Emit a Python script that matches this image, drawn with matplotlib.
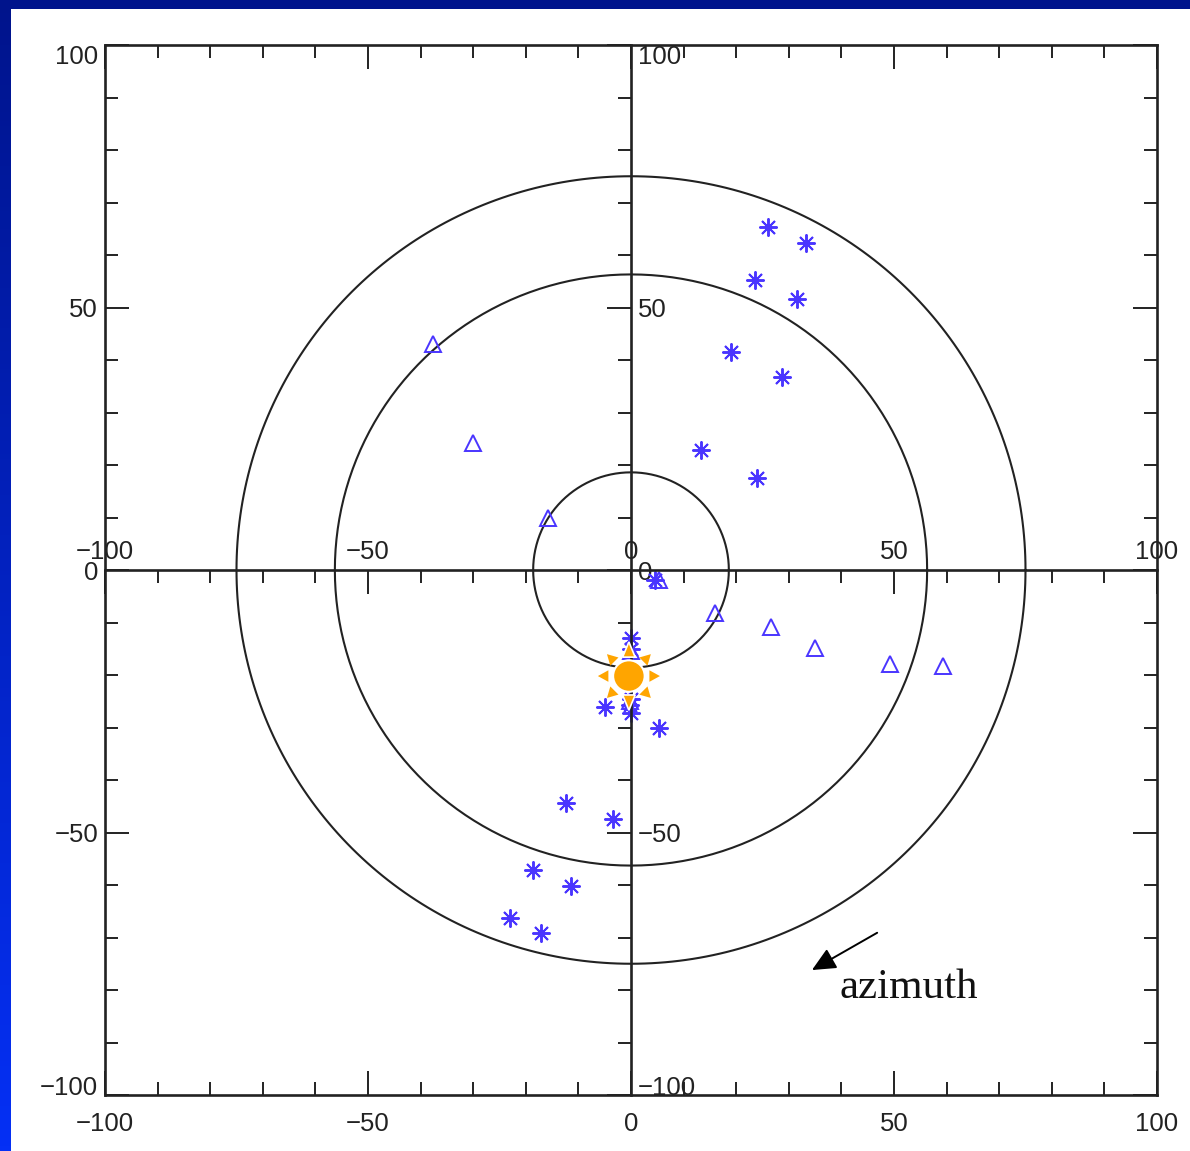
import numpy as np
import matplotlib
matplotlib.use('Agg')
import matplotlib.pyplot as plt
from matplotlib.patches import Circle, Polygon, Rectangle
from matplotlib.colors import LinearSegmentedColormap

plt.rcParams['font.family'] = ['Liberation Sans', 'DejaVu Sans']

# asterisks
star_x = [26.0, 33.3, 23.6, 31.6, 19.0, 28.7, 13.3, 24.0, 4.6, 0.0, 0.0, 0.0, -0.2, 0.0,
          -4.9, 5.3, -12.4, -3.4, -18.6, -11.4, -23.0, -17.1]
star_y = [65.3, 62.3, 55.2, 51.6, 41.5, 36.8, 22.9, 17.5, -1.9, -13.0, -15.0, -24.5, -25.7, -27.2,
          -26.1, -30.1, -44.4, -47.4, -57.1, -60.2, -66.3, -69.1]

# triangles
tri_x = [-37.6, -30.0, -15.8, 5.3, 16.0, 26.6, 35.0, 49.2, 59.3, 0.0, -0.2]
tri_y = [43.0, 24.2, 9.9, -1.9, -8.2, -10.9, -14.9, -17.9, -18.3, -15.5, -25.0]

radii = [18.6, 56.3, 75.0]

major_ticks = [-100, -50, 0, 50, 100]
minor_ticks = list(range(-100, 101, 10))
tick_labels = ['\u2212100', '\u221250', '0', '50', '100']

sun_x, sun_y = -0.4, -20.2
ray_angles = [0, 45, 90, 135, 180, 225, 270, 315]

BLUE = '#4a35ff'
ORANGE = '#ffa500'
INK = '#222222'
W, H = 1190, 1151

fig = plt.figure(figsize=(W / 100, H / 100), dpi=100)

# blue slide background with white panel
bg = fig.add_axes([0, 0, 1, 1], zorder=0)
cmap = LinearSegmentedColormap.from_list('slide', ['#00148c', '#0530f5'])
bg.imshow(np.linspace(0, 1, 256).reshape(-1, 1), aspect='auto', cmap=cmap, extent=[0, W, H, 0])
bg.add_patch(Rectangle((11, 9), W, H, color='white', lw=0))
bg.set_xlim(0, W)
bg.set_ylim(H, 0)
bg.axis('off')

pos = [105 / W, 1 - 1095 / H, 1052 / W, 1050 / H]

# box axes
ax = fig.add_axes(pos, zorder=1)
ax.patch.set_alpha(0)
ax.set_xlim(-100, 100)
ax.set_ylim(-100, 100)
ax.set_xticks(major_ticks, tick_labels)
ax.set_yticks(major_ticks, tick_labels)
ax.set_xticks(minor_ticks, minor=True)
ax.set_yticks(minor_ticks, minor=True)
ax.tick_params(which='major', direction='in', length=17, width=1.4, top=True, right=True,
               labelsize=18.5, color=INK, labelcolor=INK)
ax.tick_params(which='minor', direction='in', length=9.5, width=1.4, top=True, right=True, color=INK)
ax.tick_params(axis='x', which='major', pad=12)
ax.tick_params(axis='y', which='major', pad=5)
for s in ax.spines.values():
    s.set_linewidth(1.9)
    s.set_color(INK)
ax.get_yticklabels()[0].set_va('baseline')
ax.get_yticklabels()[-1].set_va('top')

# central axes
cx = fig.add_axes(pos, zorder=2)
cx.patch.set_alpha(0)
cx.set_xlim(-100, 100)
cx.set_ylim(-100, 100)
for name in ['left', 'bottom']:
    cx.spines[name].set_visible(False)
cx.spines['right'].set_position(('data', 0))
cx.spines['top'].set_position(('data', 0))
cx.spines['right'].set_linewidth(1.9)
cx.spines['top'].set_linewidth(1.9)
cx.spines['right'].set_color(INK)
cx.spines['top'].set_color(INK)
cx.xaxis.tick_top()
cx.yaxis.tick_right()
cx.set_xticks(major_ticks, tick_labels)
cx.set_yticks(major_ticks, tick_labels)
cx.set_xticks(minor_ticks, minor=True)
cx.set_yticks(minor_ticks, minor=True)
cx.tick_params(which='major', direction='in', length=17, width=1.4, labelsize=18.5,
               color=INK, labelcolor=INK)
cx.tick_params(which='minor', direction='in', length=9.5, width=1.4, color=INK)
cx.tick_params(axis='x', which='major', pad=4)
cx.tick_params(axis='y', which='major', pad=5)
cx.get_yticklabels()[0].set_va('baseline')
cx.get_yticklabels()[-1].set_va('top')
for lab in cx.get_xticklabels() + cx.get_yticklabels():
    lab.set_clip_on(False)

# circles
theta = np.linspace(0, 2 * np.pi, 361)
for r in radii:
    cx.plot(r * np.cos(theta), r * np.sin(theta), color=INK, lw=1.5)

cx.plot(star_x, star_y, ls='none', marker=(8, 2, 0), ms=13, mew=1.4, color=BLUE, clip_on=False)
cx.plot(tri_x, tri_y, ls='none', marker='^', ms=11, mew=1.4, mfc='none', mec=BLUE)

# sun symbol
for a in ray_angles:
    t = np.radians(a)
    ux, uy = np.cos(t), np.sin(t)
    big = a in (90, 270)
    base, tip, half = (3.6, 6.5, 1.2) if big else (3.9, 5.9, 1.1)
    pts = [(sun_x + base * ux - half * uy, sun_y + base * uy + half * ux),
           (sun_x + base * ux + half * uy, sun_y + base * uy - half * ux),
           (sun_x + tip * ux, sun_y + tip * uy)]
    cx.add_patch(Polygon(pts, closed=True, fc=ORANGE, ec='white' if big else 'none',
                         lw=1.2, zorder=5))
cx.add_patch(Circle((sun_x, sun_y), 3.0, fc=ORANGE, ec='white', lw=1.5, zorder=6))

# azimuth arrow
cx.annotate('', xy=(34.4, -76.2), xytext=(46.8, -69.1),
            arrowprops=dict(arrowstyle='-|>,head_length=0.9,head_width=0.42', color='black',
                            lw=1.4, mutation_scale=16, shrinkA=0, shrinkB=0))
cx.text(39.7, -81.5, 'azimuth', family=['Liberation Serif', 'DejaVu Serif'], fontsize=31,
        color='#111111', ha='left', va='baseline')

fig.savefig('out.png', dpi=100)
